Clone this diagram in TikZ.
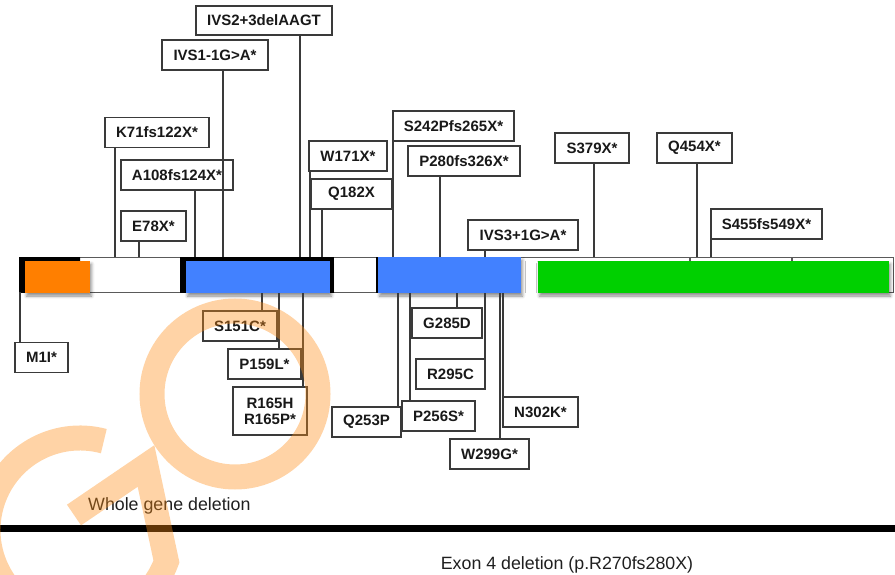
\documentclass[tikz,border=0pt]{standalone}
\usepackage{fontspec}
\setmainfont{Liberation Sans}
\usetikzlibrary{shadows.blur, fadings}
\definecolor{exonorange}{HTML}{FF7F00}
\definecolor{exonblue}{HTML}{4281FF}
\definecolor{exongreen}{HTML}{00D000}
\definecolor{boxline}{HTML}{3A3A3A}
\definecolor{barline}{HTML}{5A5A5A}
\definecolor{wmark}{HTML}{FF8C14}

\begin{document}
\begin{tikzpicture}[
    x=1pt, y=-1pt,
    mut/.style={draw=boxline, line width=1.3pt, fill=white, inner sep=0pt,
                minimum height=30pt, align=center, text=black!90,
                font=\bfseries\fontsize{15}{16}\selectfont},
    conn/.style={draw=boxline, line width=1.2pt},
    exshadow/.style={blur shadow={shadow xshift=1.5pt, shadow yshift=-3pt,
                shadow blur radius=3pt, shadow opacity=45}},
    note/.style={inner sep=0pt, text=black!88, font=\fontsize{17.8}{20}\selectfont},
]
\useasboundingbox (0,0) rectangle (895,575);
\clip (0,0) rectangle (895,575);

% gene bar
\node[draw=barline, line width=1.4pt, minimum width=873pt, minimum height=35pt,
      inner sep=0pt, anchor=north west] (gene) at (20,257) {};

% exon 1
\fill[black] (19,257) rectangle (80,293);
\shade[left color=black, middle color=white, right color=black] (25,257) rectangle (80,261);
\fill[exonorange, exshadow] (25,261) rectangle (90,293);
% exon 2
\fill[black] (180,257) rectangle (334,293);
\shade[left color=black, middle color=white, right color=black] (186,257) rectangle (330,261);
\fill[exonblue, exshadow] (186,261) rectangle (330,293);
% exon 3
\fill[black] (375.5,257) rectangle (378.5,293);
\shade[top color=white, middle color=black!75, bottom color=white] (521,261) rectangle (538,292);
\fill[exonblue, exshadow] (378,257) rectangle (521,293);
% exon 4
\fill[exongreen, exshadow] (538,261) rectangle (889,293);
\draw[barline, line width=1.2pt] (690,257) -- (690,261) (792,257) -- (792,261);

% mutations above the gene
\node[mut, minimum width=136pt, minimum height=29pt] (ivs2) at (264,20.5) {IVS2+3delAAGT};
\node[mut, minimum width=106pt] (ivs1) at (215,55) {IVS1-1G>A*};
\node[mut, minimum width=104pt] (k71) at (157,132.5) {K71fs122X*};
\node[mut, minimum width=112pt] (a108) at (177,175) {A108fs124X*};
\node[mut, minimum width=65pt] (e78) at (153.5,226) {E78X*};
\node[mut, minimum width=78pt] (w171) at (348,156) {W171X*};
\node[mut, minimum width=81pt] (q182) at (351.5,194) {Q182X};
\node[mut, minimum width=121pt] (s242) at (453.5,126) {S242Pfs265X*};
\node[mut, minimum width=112pt] (p280) at (464,161) {P280fs326X*};
\node[mut, minimum width=110pt] (ivs3) at (523,235) {IVS3+1G>A*};
\node[mut, minimum width=74pt] (s379) at (592,148) {S379X*};
\node[mut, minimum width=75pt] (q454) at (694.5,148) {Q454X*};
\node[mut, minimum width=111pt] (s455) at (766.5,224) {S455fs549X*};

% mutations below the gene
\node[mut, minimum width=53pt] (m1i) at (41.5,357.5) {M1I*};
\node[mut, minimum width=74pt] (s151) at (240,326) {S151C*};
\node[mut, minimum width=73pt] (p159) at (264.5,364) {P159L*};
\node[mut, minimum width=74pt, minimum height=48pt] (r165) at (270,411) {R165H\\R165P*};
\node[mut, minimum width=70pt] (g285) at (447,323) {G285D};
\node[mut, minimum width=69pt] (r295) at (450.5,374) {R295C};
\node[mut, minimum width=69pt] (q253) at (366.5,422) {Q253P};
\node[mut, minimum width=73pt] (p256) at (438.5,416) {P256S*};
\node[mut, minimum width=75pt] (n302) at (540.5,412) {N302K*};
\node[mut, minimum width=79pt] (w299) at (489.5,454) {W299G*};

% sites on the gene
\coordinate (ivs2-s) at (300,257);
\coordinate (ivs1-s) at (223,257);
\coordinate (k71-s) at (115,257);
\coordinate (a108-s) at (195,257);
\coordinate (e78-s) at (139,257);
\coordinate (w171-s) at (310,257);
\coordinate (q182-s) at (322,257);
\coordinate (s242-s) at (393,257);
\coordinate (p280-s) at (440,257);
\coordinate (ivs3-s) at (485,257);
\coordinate (s379-s) at (594,257);
\coordinate (q454-s) at (697,257);
\coordinate (s455-s) at (711,257);
\coordinate (m1i-s) at (20,292);
\coordinate (s151-s) at (262,293);
\coordinate (p159-s) at (279,293);
\coordinate (r165-s) at (303,293);
\coordinate (g285-s) at (457,293);
\coordinate (r295-s) at (485,293);
\coordinate (q253-s) at (398,293);
\coordinate (p256-s) at (410,293);
\coordinate (n302-s) at (503,293);
\coordinate (w299-s) at (500,293);

\draw[conn] (ivs2-s) -- (ivs2-s |- ivs2.south);
\draw[conn] (ivs1-s) -- (ivs1-s |- ivs1.south);
\draw[conn] (k71-s) -- (k71-s |- k71.south);
\draw[conn] (a108-s) -- (a108-s |- a108.south);
\draw[conn] (e78-s) -- (e78-s |- e78.south);
\draw[conn] (w171-s) -- (w171-s |- w171.south);
\draw[conn] (q182-s) -- (q182-s |- q182.south);
\draw[conn] (s242-s) -- (s242-s |- s242.south);
\draw[conn] (p280-s) -- (p280-s |- p280.south);
\draw[conn] (ivs3-s) -- (ivs3-s |- ivs3.south);
\draw[conn] (s379-s) -- (s379-s |- s379.south);
\draw[conn] (q454-s) -- (q454-s |- q454.south);
\draw[conn] (s455-s) -- (s455-s |- s455.south);
\draw[conn] (m1i-s) -- (m1i-s |- m1i.north);
\draw[conn] (s151-s) -- (s151-s |- s151.north);
\draw[conn] (p159-s) -- (p159-s |- p159.north);
\draw[conn] (r165-s) -- (r165-s |- r165.north);
\draw[conn] (g285-s) -- (g285-s |- g285.north);
\draw[conn] (r295-s) -- (r295-s |- r295.north);
\draw[conn] (q253-s) -- (q253-s |- q253.north);
\draw[conn] (p256-s) -- (p256-s |- p256.north);
\draw[conn] (n302-s) -- (n302-s |- n302.north);
\draw[conn] (w299-s) -- (w299-s |- w299.north);

% deletions
\node[note, anchor=west] (whole) at (88,506) {Whole gene deletion};
\coordinate (del-l) at (0,528.5);
\coordinate (del-r) at (895,528.5);
\draw[line width=6.5pt] (del-l) -- (del-r);
\node[note] (exon4) at (567,565) {Exon 4 deletion (p.R270fs280X)};

% watermark
\begin{scope}[draw=wmark, opacity=0.38, line width=25pt]
  \draw (235,394) circle[radius=83];
  \draw (80,530) ++(-75:92) arc[start angle=-75, end angle=-340, radius=92]
        -- (146,466) -- (74,515);
\end{scope}
\end{tikzpicture}
\end{document}
